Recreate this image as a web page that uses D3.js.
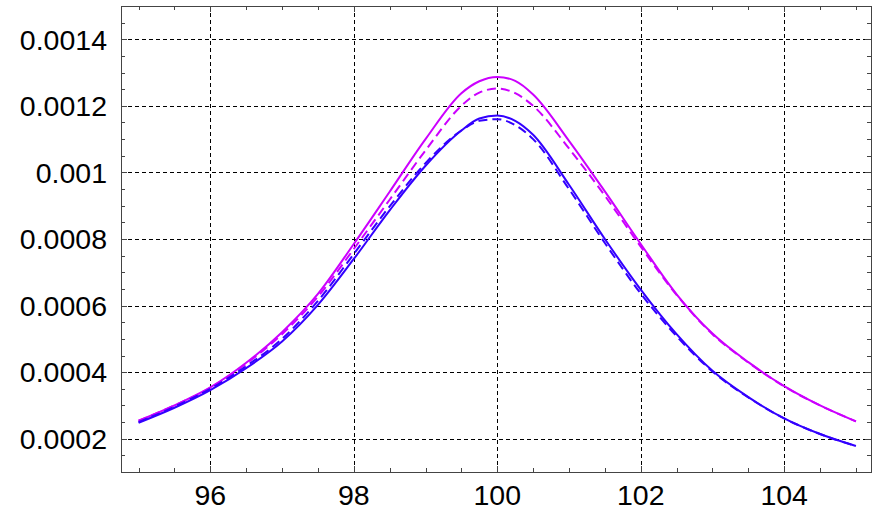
<!DOCTYPE html>
<html>
<head>
<meta charset="utf-8">
<script src="https://cdn.jsdelivr.net/npm/d3@7"></script>
<style>
  html, body { margin: 0; padding: 0; background: #fff; }
  svg { display: block; }
  .lbl { font-family: "Liberation Sans", Arial, sans-serif; font-size: 28.5px; fill: #000; }
</style>
</head>
<body>
<svg id="chart" width="872" height="510"></svg>
<script>
// ---- data ----
const xValues = [95, 95.5, 96, 96.5, 97, 97.5, 98, 98.5, 99, 99.5, 99.75, 100, 100.25, 100.5, 101, 101.5, 102, 102.5, 103, 103.5, 104, 104.5, 105];
const magentaSolid  = [0.000254, 0.000300, 0.000354, 0.000428, 0.000520, 0.000635, 0.000785, 0.000942, 0.001100, 0.001238, 0.001274, 0.001287, 0.001275, 0.001234, 0.001095, 0.000943, 0.000785, 0.000634, 0.000516, 0.000430, 0.000358, 0.000300, 0.000252];
const magentaDashed = [0.000254, 0.000300, 0.000353, 0.000425, 0.000514, 0.000627, 0.000770, 0.000918, 0.001066, 0.001200, 0.001240, 0.001252, 0.001238, 0.001200, 0.001072, 0.000930, 0.000777, 0.000632, 0.000514, 0.000429, 0.000357, 0.000300, 0.000252];
const blueSolid     = [0.000248, 0.000293, 0.000346, 0.000412, 0.000492, 0.000602, 0.000740, 0.000886, 0.001020, 0.001126, 0.001162, 0.001171, 0.001155, 0.001113, 0.000963, 0.000800, 0.000648, 0.000514, 0.000404, 0.000325, 0.000261, 0.000214, 0.000178];
const blueDashed    = [0.000250, 0.000296, 0.000350, 0.000418, 0.000500, 0.000614, 0.000755, 0.000898, 0.001028, 0.001126, 0.001155, 0.001160, 0.001142, 0.001100, 0.000950, 0.000788, 0.000636, 0.000508, 0.000402, 0.000324, 0.000261, 0.000214, 0.000178];
const xTickLabels = [96, 98, 100, 102, 104];
const yTickLabels = ["0.0002", "0.0004", "0.0006", "0.0008", "0.001", "0.0012", "0.0014"];
const yTickValues = [0.0002, 0.0004, 0.0006, 0.0008, 0.001, 0.0012, 0.0014];

// ---- layout ----
const L = 121, R = 871, T = 6, B = 472;
const svg = d3.select("#chart");
const x = d3.scaleLinear().domain([94.755, 105.21]).range([L, R]);
const y = d3.scaleLinear().domain([0.0001, 0.0015]).range([B, T]);

// grid lines
const grid = svg.append("g").attr("stroke", "#000").attr("stroke-width", 1).attr("stroke-dasharray", "4,3").attr("fill", "none");
yTickValues.forEach(v => {
  grid.append("line").attr("x1", L).attr("x2", R).attr("y1", Math.round(y(v)) + 0.5).attr("y2", Math.round(y(v)) + 0.5);
});
xTickLabels.forEach(v => {
  grid.append("line").attr("y1", T).attr("y2", B).attr("x1", Math.round(x(v)) + 0.5).attr("x2", Math.round(x(v)) + 0.5);
});

// frame
svg.append("rect").attr("x", L + 0.5).attr("y", T + 0.5).attr("width", R - L).attr("height", B - T)
  .attr("fill", "none").attr("stroke", "#444").attr("stroke-width", 1);

// ticks (inward, on all four sides)
const xMinor = d3.range(95, 105.01, 0.5);
const yMinor = d3.range(0.0001, 0.00150001, 0.00005);
const ticks = svg.append("g").attr("stroke", "#444").attr("stroke-width", 1);
xMinor.forEach(v => {
  const major = Math.abs(v - Math.round(v)) < 1e-9 && Math.round(v) % 2 === 0;
  const len = major ? 6 : 4;
  const px = Math.round(x(v)) + 0.5;
  ticks.append("line").attr("x1", px).attr("x2", px).attr("y1", B).attr("y2", B - len);
  ticks.append("line").attr("x1", px).attr("x2", px).attr("y1", T).attr("y2", T + len);
});
yMinor.forEach(v => {
  const major = yTickValues.some(t => Math.abs(t - v) < 1e-9);
  const len = major ? 6 : 4;
  const py = Math.round(y(v)) + 0.5;
  ticks.append("line").attr("x1", L).attr("x2", L + len).attr("y1", py).attr("y2", py);
  ticks.append("line").attr("x1", R).attr("x2", R - len).attr("y1", py).attr("y2", py);
});

// labels
yTickValues.forEach((v, i) => {
  svg.append("text").attr("class", "lbl").attr("x", 107).attr("y", y(v)).attr("dy", "0.36em")
    .attr("text-anchor", "end").text(yTickLabels[i]);
});
xTickLabels.forEach(v => {
  svg.append("text").attr("class", "lbl").attr("x", x(v)).attr("y", 505)
    .attr("text-anchor", "middle").text(v);
});

// curves
const line = d3.line().x((d, i) => x(xValues[i])).y(d => y(d)).curve(d3.curveMonotoneX);
const series = [
  { data: magentaSolid, color: "#cc00ff", dash: null },
  { data: magentaDashed, color: "#cc00ff", dash: "9,5" },
  { data: blueSolid, color: "#3300ff", dash: null },
  { data: blueDashed, color: "#3300ff", dash: "9,5" }
];
series.forEach(s => {
  svg.append("path").attr("d", line(s.data)).attr("fill", "none")
    .attr("stroke", s.color).attr("stroke-width", 2)
    .attr("stroke-dasharray", s.dash);
});
</script>
</body>
</html>
